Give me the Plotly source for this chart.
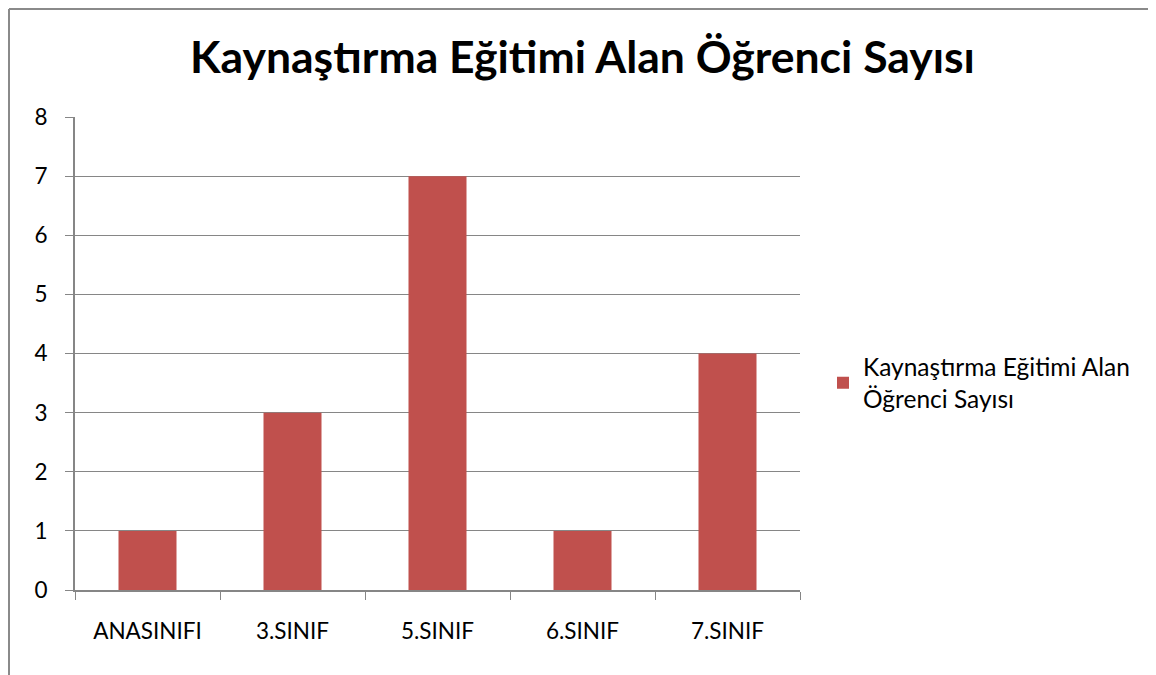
import plotly.graph_objects as go

categories = ["ANASINIFI", "3.SINIF", "5.SINIF", "6.SINIF", "7.SINIF"]
values = [1, 3, 7, 1, 4]
series_name = "Kaynaştırma Eğitimi Alan<br>Öğrenci Sayısı"
title_text = "Kaynaştırma Eğitimi Alan Öğrenci Sayısı"
y_ticks = [0, 1, 2, 3, 4, 5, 6, 7, 8]

# page is offset by the 8px body margin
OFF = 8
W, H = 1148, 667
L, T = 75 - OFF, 117 - OFF
PW, PH = 725, 473
R, B = W - L - PW, H - T - PH

def px(x):
    return (x - OFF - L) / PW

def py(y):
    return 1 - (y - OFF - T) / PH

FONT = "Lato, 'Open Sans', sans-serif"

fig = go.Figure()
fig.add_trace(go.Bar(
    x=categories, y=values, name=series_name,
    marker=dict(color="#C0504D", line=dict(width=0)),
    showlegend=True,
))

fig.update_layout(
    width=W, height=H,
    margin=dict(l=L, r=R, t=T, b=B),
    paper_bgcolor="white", plot_bgcolor="white",
    bargap=0.6,
    title=dict(text="<b>" + title_text + "</b>", x=((192 + 973) / 2 - OFF) / W, xanchor="center",
               y=1 - (57 - OFF) / H, yanchor="middle",
               font=dict(family=FONT, size=44.5, color="black")),
    font=dict(family=FONT, size=23, color="black"),
    showlegend=True,
    legend=dict(x=px(823), xanchor="left", y=py(383), yanchor="middle",
                font=dict(family=FONT, size=24.5, color="black"),
                itemwidth=30, tracegroupgap=0, bgcolor="rgba(0,0,0,0)"),
    xaxis=dict(
        type="category", tickson="boundaries", ticks="outside", ticklen=8,
        tickcolor="#868686", showline=True, linecolor="#868686", linewidth=2,
        showgrid=False, tickfont=dict(family=FONT, size=22.5, color="black"),
        range=[-0.5, 4.5], ticklabelstandoff=20,
    ),
    yaxis=dict(
        range=[0, 8], tickvals=y_ticks, ticks="outside", ticklen=8,
        tickcolor="#868686", showline=True, linecolor="#868686", linewidth=2,
        showgrid=True, gridcolor="#868686", gridwidth=1.2, zeroline=False,
        tickfont=dict(family=FONT, size=22.5, color="black"),
        ticklabelstandoff=13,
    ),
)

# outer chart border (left and top visible)
fig.add_shape(type="line", xref="paper", yref="paper",
              x0=px(9), x1=px(9), y0=py(9), y1=py(H + 30),
              line=dict(color="#8a8a8a", width=2))
fig.add_shape(type="line", xref="paper", yref="paper",
              x0=px(9), x1=px(W + 30), y0=py(9), y1=py(9),
              line=dict(color="#8a8a8a", width=2))

fig.write_html("out.html", post_script="document.body.style.overflow='hidden';")
